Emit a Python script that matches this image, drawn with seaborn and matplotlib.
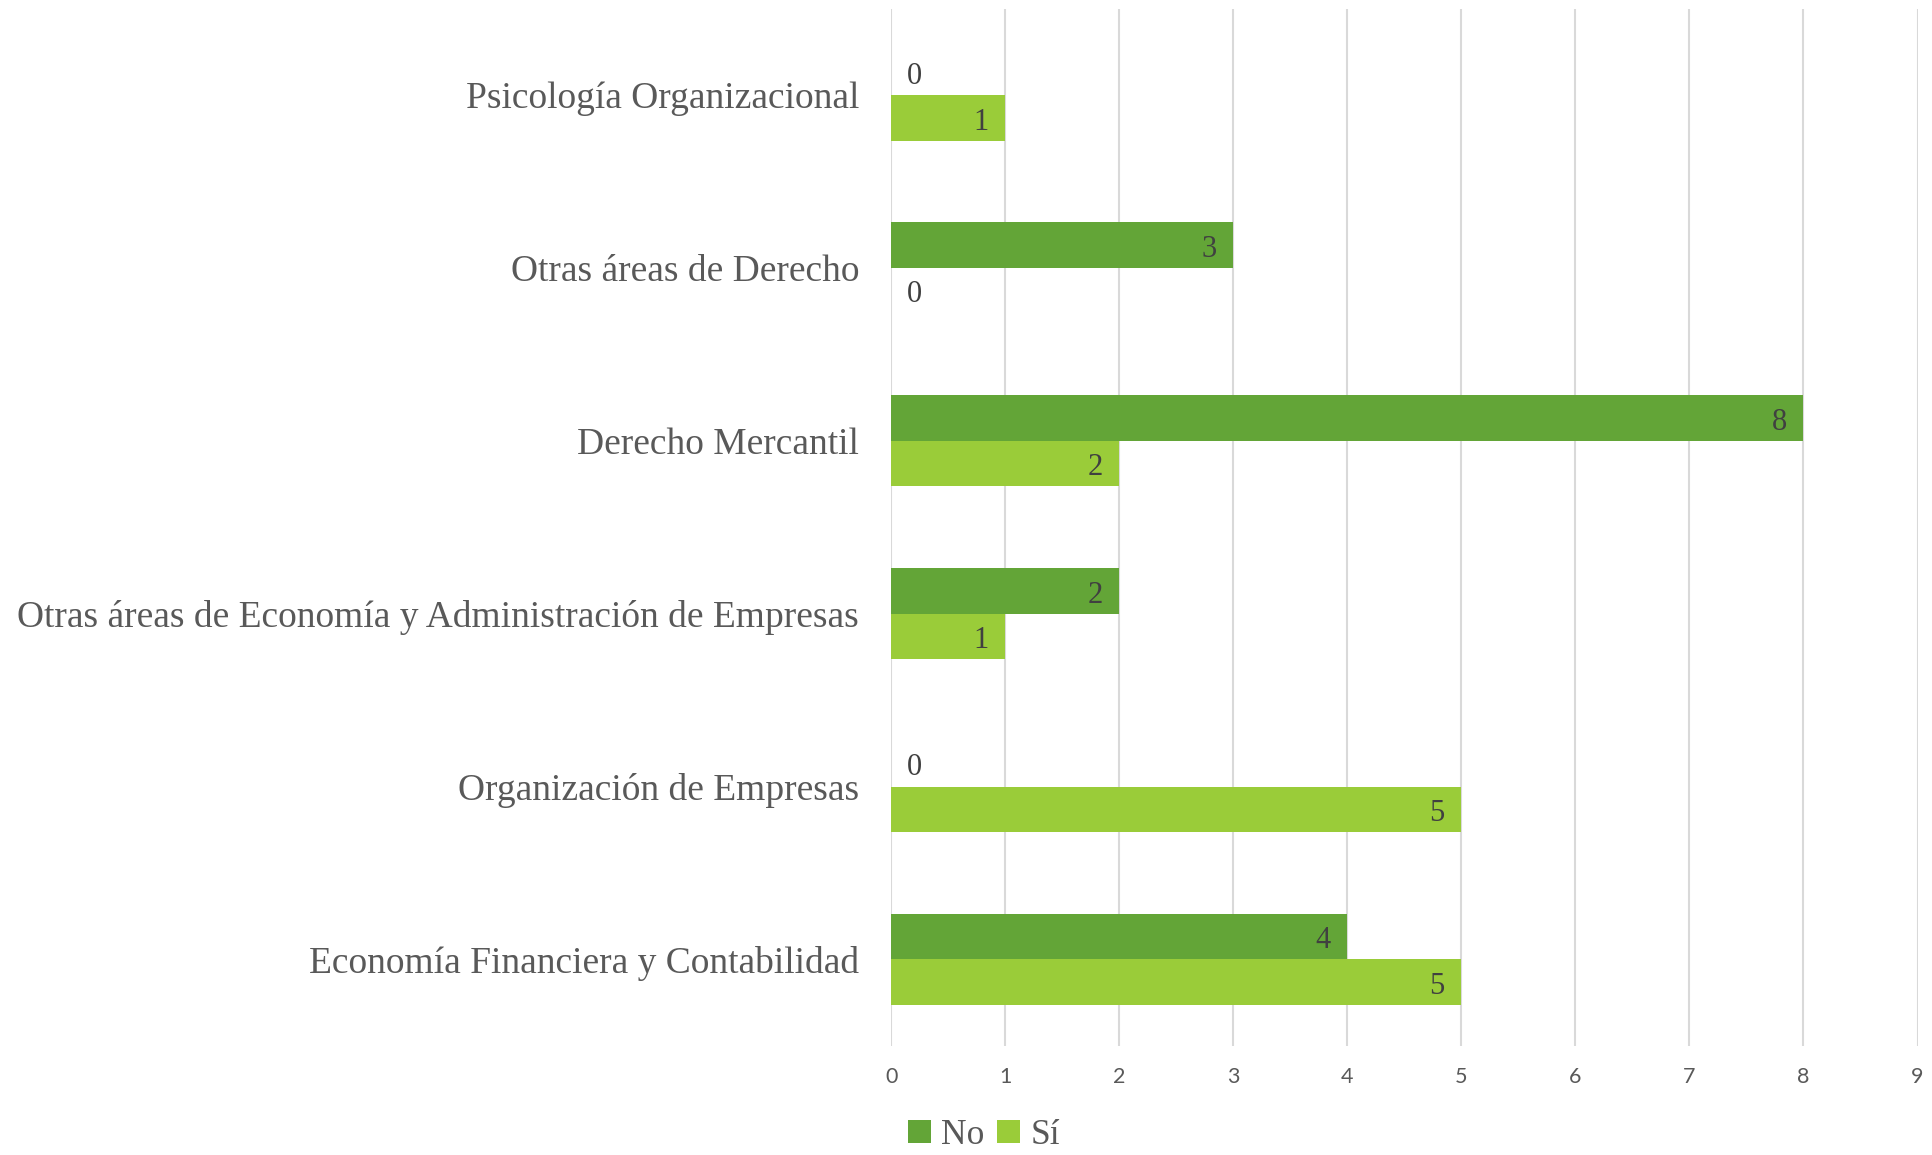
import pandas as pd
import seaborn as sns
import matplotlib.pyplot as plt
from matplotlib.patches import Patch

# Data (top to bottom)
categories = [
    'Psicología Organizacional',
    'Otras áreas de Derecho',
    'Derecho Mercantil',
    'Otras áreas de Economía y Administración de Empresas',
    'Organización de Empresas',
    'Economía Financiera y Contabilidad',
]
no_values = [0, 3, 8, 2, 0, 4]
si_values = [1, 0, 2, 1, 5, 5]
series = ['No', 'Sí']
colors = ['#63A537', '#9ACC39']
x_ticks = list(range(0, 10))

df = pd.DataFrame({
    'Area': categories * 2,
    'Respuesta': ['No'] * len(categories) + ['Sí'] * len(categories),
    'Valor': no_values + si_values,
})

sns.set_style("white")
plt.rcParams['font.family'] = ['Liberation Serif', 'DejaVu Serif']

fig = plt.figure(figsize=(19.33, 11.55), dpi=100)
ax = fig.add_axes([0.461, 0.0945, 0.531, 0.898])

sns.barplot(
    data=df, y='Area', x='Valor', hue='Respuesta', order=categories,
    hue_order=series, palette=colors, orient='h', width=0.527,
    saturation=1, legend=False, ax=ax, edgecolor='none'
)

# value labels
for cont in ax.containers:
    for bar in cont:
        w = bar.get_width()
        yc = bar.get_y() + bar.get_height() / 2
        if w > 0:
            ax.annotate(f'{w:.0f}', (w, yc), xytext=(-12, -3), textcoords='offset points',
                        ha='right', va='center', fontsize=22, color='#404040')
        else:
            ax.annotate(f'{w:.0f}', (0, yc), xytext=(11, -3), textcoords='offset points',
                        ha='left', va='center', fontsize=22, color='#404040')

ax.set_xlim(0, 9)
ax.set_ylim(5.5, -0.5)
ax.set_xticks(x_ticks)
ax.set_xticklabels([str(t) for t in x_ticks], family=['Lato', 'DejaVu Sans'],
                   fontsize=15.5, color='#595959')
ax.tick_params(axis='x', length=0, pad=15)
ax.tick_params(axis='y', length=0, pad=23, labelsize=27, labelcolor='#595959')
ax.grid(axis='x', color='#D9D9D9', linewidth=1.5)
ax.set_axisbelow(True)
for s in ax.spines.values():
    s.set_visible(False)
ax.set_xlabel('')
ax.set_ylabel('')

handles = [Patch(facecolor=c, edgecolor='none') for c in colors]
fig.legend(handles, series, loc='center', bbox_to_anchor=(0.509, 0.017), ncol=2,
           frameon=False, fontsize=25.5, labelcolor='#595959', handlelength=0.65,
           handleheight=0.65, handletextpad=0.3, columnspacing=0.35)

plt.savefig('out.png', dpi=100)
